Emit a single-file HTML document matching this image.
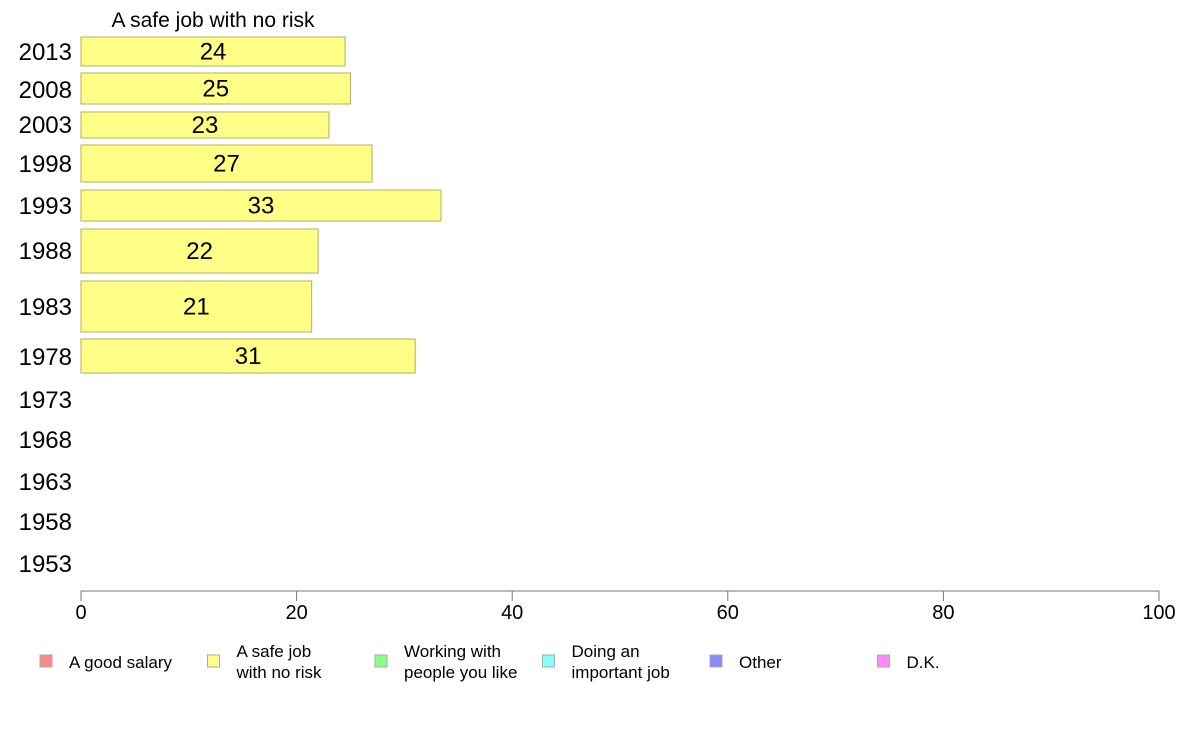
<!DOCTYPE html>
<html><head><meta charset="utf-8"><style>
html,body{margin:0;padding:0;background:#fff;}
svg{display:block;font-family:"Liberation Sans",sans-serif;}
</style></head><body>
<svg id="chart" width="1188" height="736">
<text x="213" y="27" font-size="21" text-anchor="middle">A safe job with no risk</text>
<g id="yl"></g><g id="bars"></g><g id="xaxis"></g><g id="legend"></g>
</svg>
<script>
const years=["2013","2008","2003","1998","1993","1988","1983","1978","1973","1968","1963","1958","1953"];
const values=[24.5,25,23,27,33.4,22,21.4,31,null,null,null,null,null];
const valueLabels=["24","25","23","27","33","22","21","31"];
const xTicks=[0,20,40,60,80,100];
const legendLabels=[["A good salary"],["A safe job","with no risk"],["Working with","people you like"],["Doing an","important job"],["Other"],["D.K."]];
const legendColors=["#ff8888","#ffff88","#88ff88","#88ffff","#8888ff","#ff88ff"];
// band geometry (layout, not data)
const bandTop=[37,73,112,145,190,229,281,339];
const bandBot=[66,104,138,182,221,273,332,373];
const labelY=[52,90,125,164,206,251,307,357,400,440,482,522,564];
const NS="http://www.w3.org/2000/svg";
const x=v=>81+v*10.78;
function mk(t,a,p){const e=document.createElementNS(NS,t);for(const k in a)e.setAttribute(k,a[k]);p.appendChild(e);return e;}
const yl=document.getElementById('yl'),bars=document.getElementById('bars'),xa=document.getElementById('xaxis'),lg=document.getElementById('legend');
years.forEach((y,i)=>{
 const t=mk('text',{x:72,y:labelY[i]+8,'font-size':24,'text-anchor':'end'},yl);t.textContent=y;
 
 
 if(values[i]!=null){
  const r=mk('rect',{x:x(0),y:bandTop[i],width:x(values[i])-x(0),height:bandBot[i]-bandTop[i],fill:'#ffff88',stroke:'#b0b060','stroke-width':1},bars);
  
  
  const vt=mk('text',{x:(x(0)+x(values[i]))/2,y:(bandTop[i]+bandBot[i])/2+8,'font-size':24,'text-anchor':'middle'},bars);vt.textContent=valueLabels[i];
  
  
 }
});
const ax=mk('line',{x1:x(0),x2:x(100),y1:591,y2:591,stroke:'#777','stroke-width':1},xa);


xTicks.forEach(v=>{
 const l=mk('line',{x1:x(v),x2:x(v),y1:591,y2:601,stroke:'#777'},xa);
 
 
 const t=mk('text',{x:x(v),y:619,'font-size':20,'text-anchor':'middle'},xa);t.textContent=v;
 
 
});
legendLabels.forEach((lab,i)=>{
 const gx=40+i*167.5;
 const g=mk('g',{},lg);
 
 
 mk('rect',{x:gx,y:655,width:12,height:12,fill:legendColors[i],stroke:'#aaa'},g);
 lab.forEach((s,j)=>{
  const t=mk('text',{x:gx+29,y:(lab.length==1?668:657+j*21),'font-size':17},g);t.textContent=s;
 });
});
</script>
</body></html>
